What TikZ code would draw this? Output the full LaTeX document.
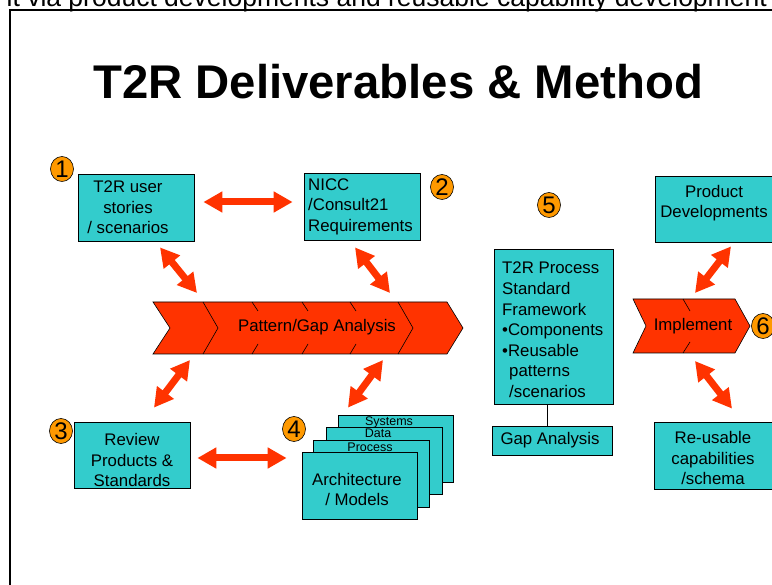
\documentclass[tikz,border=0pt]{standalone}
\usepackage{fontspec}
\setmainfont{Liberation Sans}
\usetikzlibrary{arrows.meta,calc}
\definecolor{boxcyan}{HTML}{33CCCC}
\definecolor{arrred}{HTML}{FF3300}
\definecolor{numorange}{HTML}{FF9900}
\tikzset{
  box/.style={draw=black, line width=0.8pt, fill=boxcyan, inner sep=0pt},
  txt/.style={font=\fontsize{16.8}{20.6}\selectfont, align=center, inner sep=0pt},
  smalltxt/.style={font=\fontsize{12.5}{12.5}\selectfont, inner sep=0pt},
  num/.style={ellipse, draw=black, line width=0.6pt, fill=numorange, minimum width=23pt, minimum height=25pt, inner sep=0pt, font=\fontsize{24}{24}\selectfont},
  dbl/.style={draw=arrred, line width=7pt, {Triangle[length=19pt,width=20pt]}-{Triangle[length=19pt,width=20pt]}},
  chev/.style={draw=black, line width=0.6pt, fill=arrred},
  chevline/.style={draw=black, line width=0.6pt},
  frame/.style={draw=black, line width=2pt}
}
\usetikzlibrary{shapes.geometric}
\begin{document}
\begin{tikzpicture}[x=1pt,y=-1pt]
\useasboundingbox (0,0) rectangle (772,585);
% top cut-off text and frame
\node[anchor=base east, inner sep=0pt, font=\fontsize{26.5}{26.5}\selectfont] (toptext) at (767,7) {it via product developments and reusable capability development};
\draw[frame] (10,590) -- (10,10) -- (780,10);
% title
\node[anchor=base west, inner sep=0pt, font=\fontsize{47.3}{47.3}\selectfont\bfseries] (title) at (93,99) {T2R Deliverables \& Method};

% chevrons
\draw[chev] (153,302) -- (447,302) -- (463,328) -- (447,354) -- (153,354) -- (170,328) -- cycle;
\draw[chevline] (203,302) -- (218,328) -- (203,354);
\foreach \x in {252,302,350}{
  \draw[chevline] (\x,302) -- (\x+6,311);
  \draw[chevline] (\x+6,344) -- (\x,354);
}
\draw[chevline] (398,302) -- (413,328) -- (398,354);
\node[txt] (pga) at (317,327) {Pattern/Gap Analysis};

\draw[chev] (633,299) -- (735,299) -- (750,326) -- (735,353) -- (633,353) -- (646,326) -- cycle;
\draw[chevline] (683,299) -- (690,311);
\draw[chevline] (690,342) -- (683,353);
\node[txt] (impl) at (693,326) {Implement};

% boxes
\node[box, minimum width=116pt, minimum height=67pt] (b1) at (136,207.5) {};
\node[txt] (t1) at (128,207.5) {T2R user\\stories\\/ scenarios};
\node[box, minimum width=116pt, minimum height=67pt] (b2) at (362,206.5) {};
\node[txt, anchor=west, align=left] (t2) at (308,206.5) {NICC\\/Consult21\\Requirements};
\node[box, minimum width=116pt, minimum height=66pt] (b3) at (132,455) {};
\node[txt] (t3) at (132,460) {Review\\Products \&\\Standards};

\node[box, minimum width=115pt, minimum height=67pt] (s1) at (395.5,448.5) {};
\node[smalltxt] (l1) at (389,422.5) {Systems};
\node[box, minimum width=116pt, minimum height=67pt] (s2) at (384,460.5) {};
\node[smalltxt] (l2) at (378,433.5) {Data};
\node[box, minimum width=116pt, minimum height=67pt] (s3) at (371,473.5) {};
\node[smalltxt] (l3) at (370,447.5) {Process};
\node[box, minimum width=115pt, minimum height=67pt] (b4) at (359.5,485.5) {};
\node[txt] (t4) at (357,489.5) {Architecture\\/ Models};

\node[box, minimum width=119pt, minimum height=155pt] (b5) at (553.5,326.5) {};
\node[txt, anchor=west, align=left] (t5) at (502,330) {T2R Process\\Standard\\Framework\\•Components\\•Reusable\\\hspace*{7pt}patterns\\\hspace*{7pt}/scenarios};
\node[box, minimum width=120pt, minimum height=29pt] (gap) at (552,440.5) {};
\node[txt] (tg) at (550,440.5) {Gap Analysis};
\draw[line width=0.8pt] ([xshift=-6.5pt]b5.south) -- ([xshift=-6.5pt]b5.south |- gap.north);

\node[box, minimum width=117pt, minimum height=66pt] (pd) at (713.5,209) {};
\node[txt] (tpd) at (714,203) {Product\\Developments};
\node[box, minimum width=118pt, minimum height=67pt] (ru) at (713,455.5) {};
\node[txt] (tru) at (713,458) {Re-usable\\capabilities\\/schema};

% numbers
\node[num] (n1) at (62,169) {1};
\node[num] (n2) at (442,187) {2};
\node[num] (n3) at (61,431) {3};
\node[num] (n4) at (294,429) {4};
\node[num] (n5) at (549,205) {5};
\node[num] (n6) at (763,326) {6};

% double arrows
\draw[dbl] ($(b1.east)+(9,-5.5)$) -- ($(b2.west)+(-11,-4.5)$);
\draw[dbl] ($(b1.south)+(24,6)$) -- ($(pga)+(-120,-34)$);
\draw[dbl] ($(b2.south)+(-7,7)$) -- ($(pga)+(73,-34)$);
\draw[dbl] ($(b3.north)+(22,-14)$) -- ($(pga)+(-127,33)$);
\draw[dbl] ($(s1.north)+(-47.5,-7)$) -- ($(pga)+(66,33)$);
\draw[dbl] ($(b3.east)+(7,3)$) -- ($(b4.west)+(-15,-27.5)$);
\draw[dbl] ($(pd.south)+(17.5,4)$) -- ($(impl)+(2,-33)$);
\draw[dbl] ($(impl)+(2,35)$) -- ($(ru.north)+(19,-13)$);
\end{tikzpicture}
\end{document}
